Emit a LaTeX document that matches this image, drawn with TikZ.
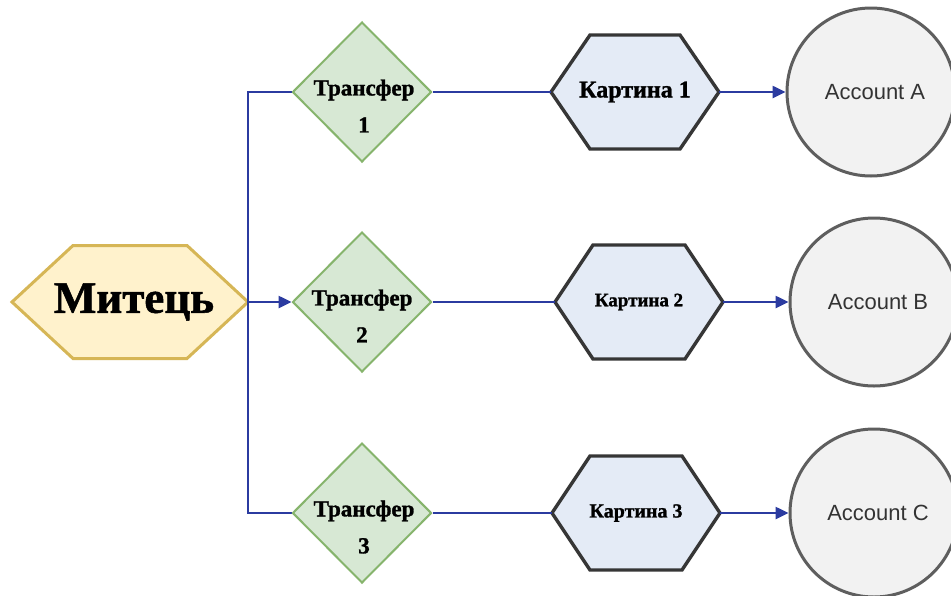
\documentclass[tikz,border=0pt]{standalone}
\usepackage{fontspec}
\setmainfont{Liberation Serif}[BoldFeatures={FakeBold=1.2}]
\newfontfamily\acctfont{Liberation Sans}
\usetikzlibrary{shapes.geometric,arrows.meta,backgrounds}
\definecolor{ybg}{HTML}{FFF2CC}
\definecolor{yst}{HTML}{D6B656}
\definecolor{gbg}{HTML}{D7E8D4}
\definecolor{gst}{HTML}{86B46C}
\definecolor{bbg}{HTML}{E4EBF6}
\definecolor{bst}{HTML}{363636}
\definecolor{cbg}{HTML}{F2F2F2}
\definecolor{cst}{HTML}{5E5E5E}
\definecolor{wire}{HTML}{2B3BA0}
\definecolor{acct}{HTML}{333333}
\newcommand{\hexoutline}[3]{%
  \begin{scope}[on background layer]
  \draw[#3] (#1.west) -- ([xshift=#2]#1.north west) -- ([xshift=-#2]#1.north east) -- (#1.east) -- ([xshift=-#2]#1.south east) -- ([xshift=#2]#1.south west) -- cycle;
  \end{scope}}
\begin{document}
\begin{tikzpicture}[x=1pt,y=-1pt,
  hexbox/.style={rectangle, minimum width=168pt, minimum height=114pt, inner sep=0pt, outer sep=0pt, font=\bfseries\fontsize{#1}{#1}\selectfont},
  hexbox/.default=20,
  artfill/.style={fill=bbg, draw=bst, line width=3.4pt, line join=miter},
  artistfill/.style={fill=ybg, draw=yst, line width=3pt, line join=miter},
  diam/.style={diamond, aspect=1, draw=gst, fill=gbg, line width=2pt, minimum width=139pt, minimum height=140pt, inner sep=0pt},
  difftext/.style={align=center, font=\bfseries\fontsize{23}{37}\selectfont, inner sep=0pt},
  acc/.style={circle, draw=cst, fill=cbg, line width=3pt, minimum size=168pt, inner sep=0pt, text=acct, font=\acctfont\fontsize{22}{22}\selectfont},
  wireline/.style={draw=wire, line width=2.5pt},
  wirearrow/.style={wireline, -{Triangle[length=13pt,width=12pt]}}
]
\useasboundingbox (0,0) rectangle (951,595);
\clip (0,0) rectangle (951,595);
\begin{scope}[on background layer]
\fill[white] (0,0) rectangle (951,595);
\end{scope}

% artist
\node[hexbox=45, minimum width=236pt, minimum height=113pt] (m) at (130,302) {\hspace*{8pt}Митець};
\hexoutline{m}{61pt}{artistfill}

% transfers
\node[diam] (d1) at (362,92) {};
\node[diam] (d2) at (362,302) {};
\node[diam] (d3) at (362,513) {};
\node[difftext] (t1) at (364,106) {Трансфер\\1};
\node[difftext] (t2) at (362,316) {Трансфер\\2};
\node[difftext] (t3) at (364,527) {Трансфер\\3};

% connectors from the artist to the upper and lower transfers
\begin{scope}[on background layer]
\draw[wireline] (m.east) |- (d1.west);
\draw[wireline] (m.east) |- (d3.west);
\end{scope}

% pictures
\node[hexbox=24] (k1) at (635,92) {Картина 1};
\node[hexbox=19] (k2) at (639,302) {Картина 2};
\node[hexbox=20] (k3) at (636,513) {Картина 3};
\hexoutline{k1}{39pt}{artfill}
\hexoutline{k2}{38pt}{artfill}
\hexoutline{k3}{38pt}{artfill}

% accounts
\node[acc] (a) at (871,92) {\hspace*{8pt}Account A};
\node[acc] (b) at (874,302) {\hspace*{8pt}Account B};
\node[acc] (c) at (874,513) {\hspace*{8pt}Account C};

% connectors
\draw[wirearrow] (m.east) -- (d2.west);
\draw[wireline] (d1.east) -- (k1.west);
\draw[wireline] (d2.east) -- (k2.west);
\draw[wireline] (d3.east) -- (k3.west);
\draw[wirearrow] (k1.east) -- (a.west);
\draw[wirearrow] (k2.east) -- (b.west);
\draw[wirearrow] (k3.east) -- (c.west);
\end{tikzpicture}
\end{document}
